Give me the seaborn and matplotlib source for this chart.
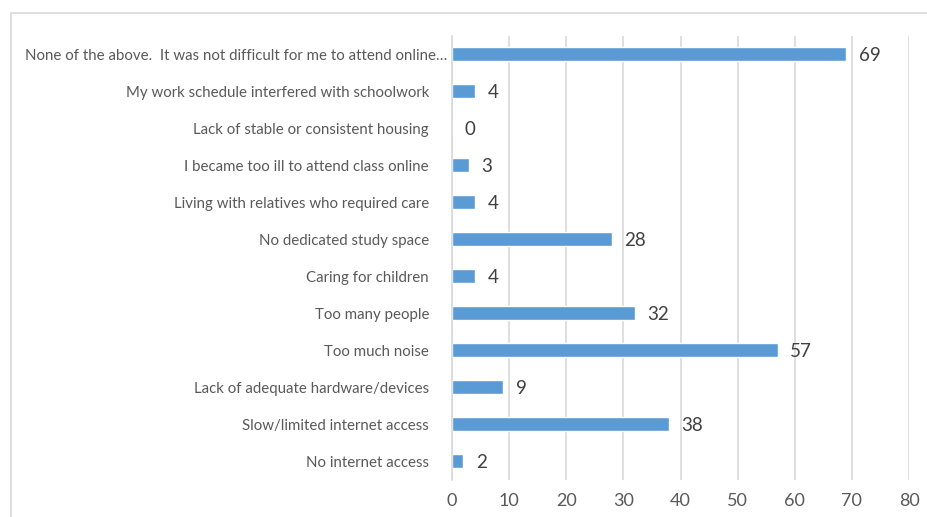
import matplotlib
matplotlib.use("Agg")
import matplotlib.pyplot as plt
import matplotlib.transforms as mtransforms
import seaborn as sns
import pandas as pd
from matplotlib.patches import Rectangle

categories = [
    "None of the above.  It was not difficult for me to attend online\u2026",
    "My work schedule interfered with schoolwork",
    "Lack of stable or consistent housing",
    "I became too ill to attend class online",
    "Living with relatives who required care",
    "No dedicated study space",
    "Caring for children",
    "Too many people",
    "Too much noise",
    "Lack of adequate hardware/devices",
    "Slow/limited internet access",
    "No internet access",
]
values = [69, 4, 0, 3, 4, 28, 4, 32, 57, 9, 38, 2]
x_ticks = [0, 10, 20, 30, 40, 50, 60, 70, 80]

sns.set_theme(style="white")
plt.rcParams["font.family"] = ["Lato", "DejaVu Sans"]

df = pd.DataFrame({"category": categories, "value": values})

fig = plt.figure(figsize=(9.27, 5.17), dpi=100)
ax = fig.add_axes([452/927, 1-479.5/517, 457/927, 444/517])

sns.barplot(data=df, x="value", y="category", orient="h", color="#5B9BD5",
            width=0.36, ax=ax, saturation=1)

ax.set_xlim(0, 80)
ax.set_xticks(x_ticks)
ax.set_xlabel("")
ax.set_ylabel("")
ax.grid(axis="x", color="#D9D9D9", linewidth=1.2)
ax.set_axisbelow(True)
for s in ["top", "right", "bottom"]:
    ax.spines[s].set_visible(False)
ax.spines["left"].set_color("#D9D9D9")
ax.spines["left"].set_linewidth(1.2)
ax.tick_params(axis="y", length=0, pad=16.5, labelsize=10.8, labelcolor="#595959")
ax.tick_params(axis="x", length=0, pad=9.5, labelsize=13, labelcolor="#595959")

# Long first label sits closer to the axis, as in the reference
first = ax.get_yticklabels()[0]
first.set_transform(first.get_transform() +
                    mtransforms.ScaledTranslation(18/100, 0, fig.dpi_scale_trans))

for i, v in enumerate(values):
    ax.annotate(str(v), xy=(v, i), xytext=(9, -1), textcoords="offset points",
                va="center", ha="left", fontsize=13.5, color="#404040")

fig.patches.append(Rectangle((11/927, -0.1), 1.2, 1-13/517 + 0.1,
                             transform=fig.transFigure, fill=False,
                             edgecolor="#D9D9D9", linewidth=1.2))

fig.savefig("out.png", dpi=100)
